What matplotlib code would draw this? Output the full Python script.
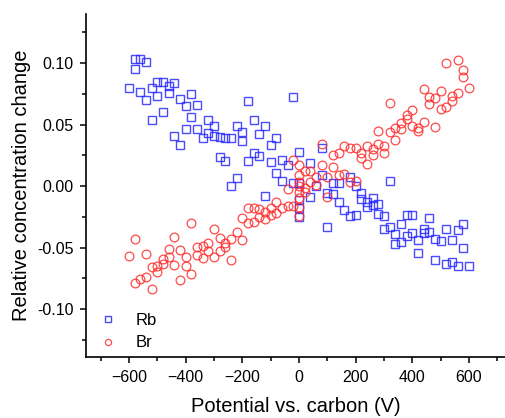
import matplotlib
matplotlib.use('Agg')
import matplotlib.pyplot as plt
from matplotlib.ticker import MultipleLocator, FormatStrFormatter

plt.rcParams['font.family'] = ['Liberation Sans', 'DejaVu Sans']

# Rb (squares)
rb_v = [-600, -580, -580, -560, -560, -540, -540, -520, -520, -500, -500, -480, -480,
        -460, -460, -440, -440, -420, -420, -400, -400, -380, -380, -360, -360, -340,
        -320, -320, -300, -300, -280, -280, -260, -260, -240, -240, -220, -220, -200, -200,
        -180, -180, -160, -160, -140, -140, -120, -120, -100, -100, -80, -80, -60, -60,
        -40, -20, -20, 0, 0, 0, 0, 0, 40, 40, 60, 80, 80, 100, 100, 120, 120, 140, 140,
        160, 180, 180, 200, 200, 220, 220, 240, 240, 260, 260, 280, 280, 300, 300,
        320, 320, 340, 340, 360, 360, 380, 380, 400, 400, 420, 420, 440, 440, 460, 460,
        480, 480, 500, 520, 520, 540, 540, 560, 560, 580, 580, 600]
rb_y = [0.0799, 0.1038, 0.0949, 0.1030, 0.0764, 0.1011, 0.0697, 0.0799, 0.0539, 0.0843, 0.0729,
        0.0848, 0.0602, 0.0815, 0.0759, 0.0840, 0.0409, 0.0710, 0.0336, 0.0650, 0.0466,
        0.0750, 0.0561, 0.0659, 0.0461, 0.0388, 0.0534, 0.0433, 0.0493, 0.0409, 0.0398,
        0.0233, 0.0388, 0.0201, 0.0393, 0.0002, 0.0493, 0.0067, 0.0441, 0.0363, 0.0693,
        0.0206, 0.0539, 0.0271, 0.0420, 0.0246, 0.0488, -0.0079, 0.0336, 0.0198, 0.0388,
        0.0106, 0.0214, 0.0043, 0.0171, 0.0726, 0.0024, 0.0274, 0.0024, -0.0114, -0.0181,
        -0.0250, 0.0189, -0.0087, -0.0002, 0.0309, 0.0089, -0.0059, -0.0331, 0.0022, -0.0065,
        0.0022, -0.0133, -0.0193, 0.0071, -0.0241, 0.0000, -0.0236, -0.0054, -0.0108,
        -0.0128, -0.0168, -0.0100, -0.0157, -0.0146, -0.0230, -0.0244, -0.0350, 0.0041,
        -0.0336, -0.0388, -0.0472, -0.0307, -0.0455, -0.0238, -0.0407, -0.0238, -0.0385,
        -0.0439, -0.0545, -0.0350, -0.0385, -0.0258, -0.0372, -0.0433, -0.0602, -0.0450,
        -0.0352, -0.0632, -0.0437, -0.0618, -0.0358, -0.0653, -0.0311, -0.0504, -0.0648]

# Br (circles)
br_v = [-600, -580, -580, -560, -540, -540, -520, -520, -500, -500, -480, -480, -460, -460,
        -440, -440, -420, -420, -400, -400, -380, -380, -360, -360, -340, -340, -320, -320,
        -300, -300, -280, -280, -260, -260, -240, -240, -220, -200, -200, -180, -180,
        -160, -160, -140, -140, -120, -120, -100, -100, -80, -80, -60, -40, -40, -20, -20,
        0, 0, 0, 0, 0, 0, 0, 0, 20, 20, 20, 40, 40, 60, 60, 80, 80, 100, 100, 120, 120,
        140, 140, 160, 160, 180, 180, 200, 200, 220, 220, 240, 240, 260, 260, 280, 280,
        300, 300, 320, 320, 340, 340, 360, 360, 380, 380, 400, 400, 420, 420, 440, 440,
        460, 460, 480, 480, 500, 500, 520, 520, 540, 540, 560, 560, 580, 580, 600]
br_y = [-0.0572, -0.0428, -0.0786, -0.0756, -0.0555, -0.0742, -0.0835, -0.0661, -0.0699, -0.0650,
        -0.0596, -0.0637, -0.0515, -0.0580, -0.0415, -0.0645, -0.0520, -0.0764, -0.0580, -0.0650,
        -0.0715, -0.0303, -0.0493, -0.0561, -0.0488, -0.0588, -0.0461, -0.0526, -0.0350, -0.0575,
        -0.0425, -0.0526, -0.0461, -0.0493, -0.0433, -0.0602, -0.0372, -0.0439, -0.0263, -0.0303,
        -0.0181, -0.0176, -0.0290, -0.0189, -0.0254, -0.0209, -0.0271, -0.0179, -0.0238, -0.0128,
        -0.0217, -0.0181, -0.0165, -0.0024, -0.0163, 0.0211,
        0.0171, 0.0092, 0.0035, 0.0000, -0.0051, -0.0100, -0.0173, -0.0244,
        0.0119, -0.0016, -0.0046, 0.0119, 0.0032, 0.0071, 0.0008, 0.0341, 0.0171, 0.0076, -0.0092,
        0.0252, 0.0152, 0.0271, 0.0089, 0.0325, 0.0098, 0.0311, 0.0035, 0.0307, 0.0041,
        0.0271, 0.0228, 0.0325, 0.0181, 0.0303, 0.0254, 0.0341, 0.0450, 0.0325, 0.0266,
        0.0672, 0.0439, 0.0472, 0.0374, 0.0510, 0.0466, 0.0580, 0.0542, 0.0618, 0.0493,
        0.0472, 0.0450, 0.0791, 0.0520, 0.0726, 0.0667, 0.0718, 0.0477, 0.0775, 0.0624,
        0.0998, 0.0640, 0.0732, 0.0693, 0.1024, 0.0754, 0.0946, 0.0889, 0.0797]

fig = plt.figure(figsize=(5.05, 4.18), dpi=100)
ax = fig.add_axes([86 / 505, 1 - 357 / 418, 1 - 86 / 505, (357 - 14) / 418])

ax.plot(rb_v, rb_y, ls='none', marker='s', ms=5.8, mfc='none', mec='#2a2aff', mew=1.0,
        alpha=0.85, label='Rb')
ax.plot(br_v, br_y, ls='none', marker='o', ms=6.3, mfc='none', mec='#ff2a2a', mew=0.9,
        alpha=0.85, label='Br')

ax.set_xlim(-752, 727)
ax.set_ylim(-0.139, 0.14)
ax.xaxis.set_major_locator(MultipleLocator(200))
ax.xaxis.set_minor_locator(MultipleLocator(100))
ax.yaxis.set_major_locator(MultipleLocator(0.05))
ax.yaxis.set_minor_locator(MultipleLocator(0.025))
ax.yaxis.set_major_formatter(FormatStrFormatter('%.2f'))

for s in ['top', 'right']:
    ax.spines[s].set_visible(False)
for s in ['left', 'bottom']:
    ax.spines[s].set_linewidth(1.2)
ax.tick_params(which='major', direction='out', length=4, width=1.1, labelsize=11.5, pad=5)
ax.tick_params(which='minor', direction='out', length=3, width=1.1)

ax.set_xlabel('Potential vs. carbon (V)', fontsize=14.5, labelpad=9)
ax.set_ylabel('Relative concentration change', fontsize=14.5, labelpad=4)

ax.legend(loc='lower left', bbox_to_anchor=(0.0, -0.015), frameon=False, fontsize=12,
          markerscale=0.7, handlelength=1.2, handletextpad=1.1, labelspacing=0.45,
          borderaxespad=0.3)

fig.savefig('out.png', dpi=100)
